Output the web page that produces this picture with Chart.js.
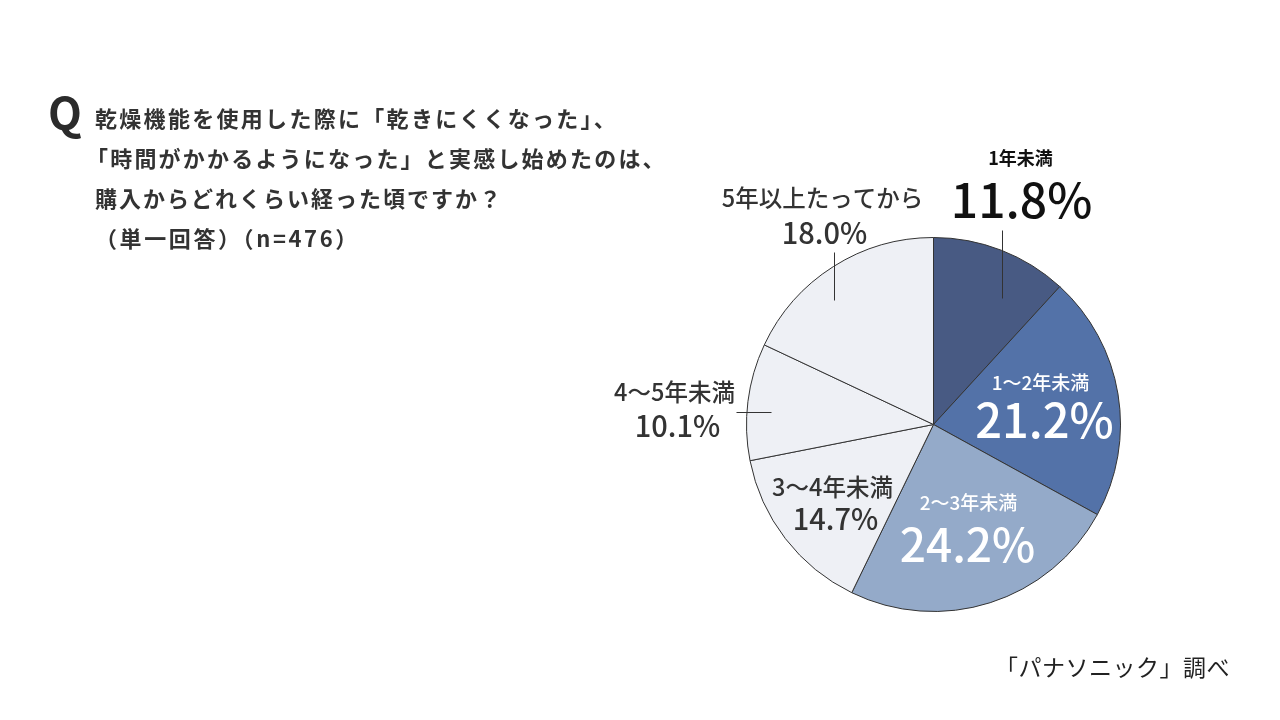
<!DOCTYPE html>
<html lang="ja">
<head>
<meta charset="utf-8">
<script src="https://cdn.jsdelivr.net/npm/chart.js@4.4.1/dist/chart.umd.min.js"></script>
<style>
  html, body { margin: 0; padding: 0; background: #fff; }
  #wrap { position: relative; width: 1280px; height: 720px; overflow: hidden; font-family: "Noto Sans CJK JP", sans-serif; }
  #chart { position: absolute; left: 0; top: 0; }
  .q { position: absolute; left: 48px; top: 89px; font-size: 44px; line-height: 44px; font-weight: 700; color: #2b2b2b; }
  .title { position: absolute; left: 95px; top: 97px; font-size: 22px; line-height: 40px; font-weight: 700; color: #333; white-space: nowrap; }
  .title div { letter-spacing: 2px; }
  .title .l1 { letter-spacing: 2.3px; }
  .title .l2 { margin-left: -9px; letter-spacing: 2.2px; }
  .title .l4 { letter-spacing: 2.6px; }
  .source { position: absolute; right: 50px; top: 651px; font-size: 23px; line-height: 30px; color: #222; white-space: nowrap; letter-spacing: 0.5px; }
</style>
</head>
<body>
<div id="wrap">
  <canvas id="chart" width="1280" height="720"></canvas>
  <div class="q">Q</div>
  <div class="title">
    <div class="l1">乾燥機能を使用した際に「乾きにくくなった」、</div>
    <div class="l2">「時間がかかるようになった」と実感し始めたのは、</div>
    <div class="l3">購入からどれくらい経った頃ですか？</div>
    <div class="l4">（単一回答）（n=476）</div>
  </div>
  <div class="source">「パナソニック」調べ</div>
</div>
<script>
// data (percent)
const categories = ["1年未満", "1〜2年未満", "2〜3年未満", "3〜4年未満", "4〜5年未満", "5年以上たってから"];
const shares = [11.8, 21.2, 24.2, 14.7, 10.1, 18.0];
const sliceColors = ["#485a83", "#5372a8", "#94aac9", "#eef0f5", "#eef0f5", "#eef0f5"];

// label placement: [dx, dy, size, weight, colour], px offsets from the pie centre
const labelSpots = [
  { name: [87, -266, 18, 700, "#111"], value: [88, -225, 48, 500, "#111"], leader: [69, -194, 69, -126] },
  { name: [107, -42, 19, 500, "#fff"], value: [111, -4, 47, 500, "#fff"] },
  { name: [35, 78, 19, 500, "#fff"], value: [34, 120, 46, 500, "#fff"] },
  { name: [-101, 63, 23.5, 500, "#333"], value: [-98, 94, 29, 500, "#333"] },
  { name: [-259, -32, 23.5, 500, "#333"], value: [-256, 1, 29, 500, "#333"], leader: [-197, -12, -162, -12] },
  { name: [-111, -226, 23.5, 500, "#333"], value: [-109, -192, 29, 500, "#333"], leader: [-99, -172, -99, -124] }
];

const sliceLabels = {
  id: 'sliceLabels',
  afterDatasetsDraw(chart) {
    const ctx = chart.ctx;
    const arcs = chart.getDatasetMeta(0).data;
    ctx.save();
    ctx.textAlign = 'center';
    ctx.textBaseline = 'middle';
    arcs.forEach((arc, i) => {
      const cx = arc.x, cy = arc.y;
      const spot = labelSpots[i];
      if (spot.leader) {
        const l = spot.leader;
        ctx.strokeStyle = '#333';
        ctx.lineWidth = 1;
        ctx.beginPath();
        ctx.moveTo(cx + l[0], cy + l[1]);
        ctx.lineTo(cx + l[2], cy + l[3]);
        ctx.stroke();
      }
      const n = spot.name;
      ctx.fillStyle = n[4];
      ctx.font = `${n[3]} ${n[2]}px "Noto Sans CJK JP"`;
      ctx.fillText(categories[i], cx + n[0], cy + n[1]);
      const v = spot.value;
      ctx.fillStyle = v[4];
      ctx.font = `${v[3]} ${v[2]}px "Noto Sans CJK JP"`;
      ctx.fillText(shares[i].toFixed(1) + '%', cx + v[0], cy + v[1]);
    });
    ctx.restore();
  }
};

const chart = new Chart(document.getElementById('chart'), {
  type: 'pie',
  data: {
    labels: categories,
    datasets: [{
      data: shares,
      backgroundColor: sliceColors,
      borderColor: '#333',
      borderWidth: 1
    }]
  },
  options: {
    responsive: false,
    animation: false,
    events: [],
    layout: { padding: { left: 746, right: 159, top: 237, bottom: 108 } },
    plugins: {
      legend: { display: false },
      tooltip: { enabled: false }
    }
  },
  plugins: [sliceLabels]
});
</script>
</body>
</html>
